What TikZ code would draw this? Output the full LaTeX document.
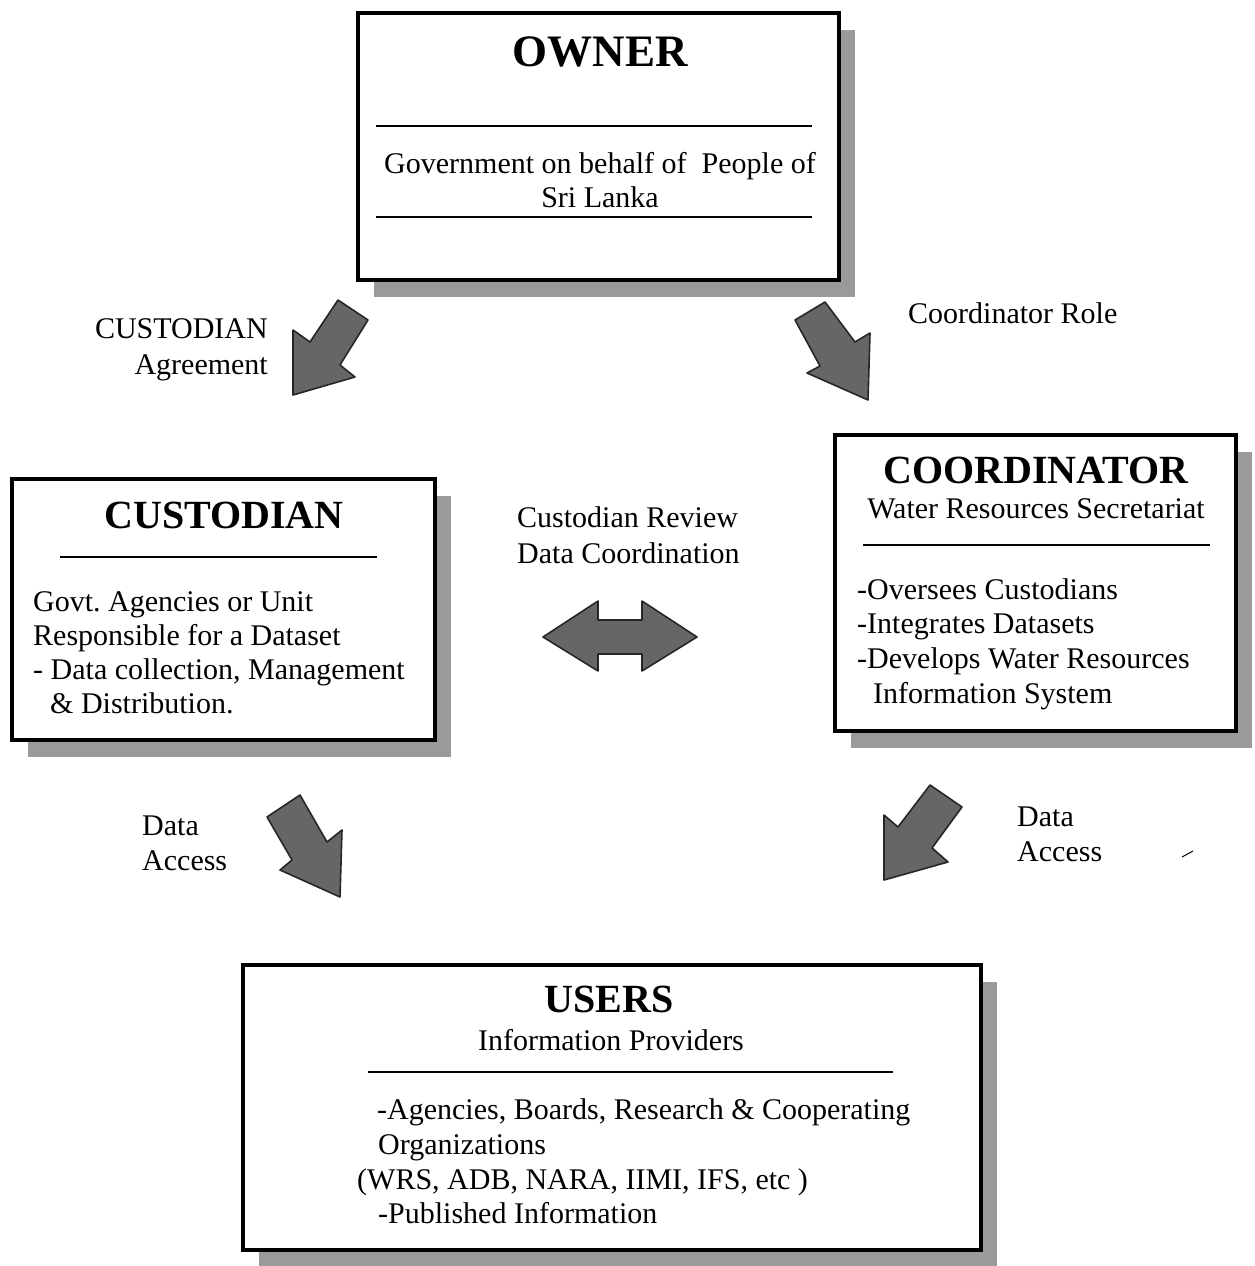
\documentclass[tikz,border=0pt]{standalone}
\usepackage{fontspec}
\setmainfont{Liberation Serif}
\frenchspacing
\usetikzlibrary{shadows}
\definecolor{shadowgray}{HTML}{9A9A9A}
\definecolor{arrowgray}{HTML}{666666}
\tikzset{
  box/.style={draw=black, line width=4pt, fill=white, rectangle, inner sep=0pt,
    drop shadow={shadow xshift=16pt, shadow yshift=-17pt, fill=shadowgray, opacity=1}},
  txt/.style={font=\fontsize{30}{35}\selectfont, inner sep=0pt},
  ttl/.style={font=\fontsize{40}{44}\selectfont\bfseries, inner sep=0pt},
  bigttl/.style={font=\fontsize{45}{50}\selectfont\bfseries, inner sep=0pt},
  rule/.style={line width=2.5pt},
  blockarrow/.style={fill=arrowgray, draw=black!85, line width=1.6pt, line join=round}
}
\begin{document}
\begin{tikzpicture}[x=1pt,y=-1pt]
\useasboundingbox (0,0) rectangle (1255,1266);

% boxes
\node[box, minimum width=481pt, minimum height=267pt] (owner) at (598.5,146.5) {};
\node[box, minimum width=423pt, minimum height=261pt] (custodian) at (223.5,609.5) {};
\node[box, minimum width=401pt, minimum height=296pt] (coordinator) at (1035.5,583) {};
\node[box, minimum width=738pt, minimum height=285pt] (users) at (612,1107.5) {};

% OWNER
\node[bigttl, anchor=base] (ownT) at (600,66) {OWNER};
\draw[rule] (376,126) -- (812,126);
\node[txt, anchor=base] (own1) at (600,173) {Government on behalf of~ People of};
\node[txt, anchor=base] (own2) at (600,207) {Sri Lanka};
\draw[rule] (376,217) -- (812,217);

% CUSTODIAN
\node[ttl, anchor=base] (cusT) at (224,528) {CUSTODIAN};
\draw[rule] (60,557) -- (377,557);
\node[txt, anchor=base west] (cus1) at (33,611) {Govt. Agencies or Unit};
\node[txt, anchor=base west] (cus2) at (33,645) {Responsible for a Dataset};
\node[txt, anchor=base west] (cus3) at (33,679) {- Data collection, Management};
\node[txt, anchor=base west] (cus4) at (50,713) {\& Distribution.};

% COORDINATOR
\node[ttl, anchor=base] (corT) at (1036,483) {COORDINATOR};
\node[txt, anchor=base] (corS) at (1036,518) {Water Resources Secretariat};
\draw[rule] (863,545) -- (1210,545);
\node[txt, anchor=base west] (cor1) at (857,599) {-Oversees Custodians};
\node[txt, anchor=base west] (cor2) at (857,633) {-Integrates Datasets};
\node[txt, anchor=base west] (cor3) at (857,668) {-Develops Water Resources};
\node[txt, anchor=base west] (cor4) at (873,703) {Information System};

% USERS
\node[ttl, anchor=base] (usrT) at (609,1012) {USERS};
\node[txt, anchor=base] (usrS) at (611,1050) {Information Providers};
\draw[rule] (368,1072) -- (893,1072);
\node[txt, anchor=base west] (usr1) at (377,1119) {-Agencies, Boards, Research \& Cooperating};
\node[txt, anchor=base west] (usr2) at (378,1154) {Organizations};
\node[txt, anchor=base west] (usr3) at (357,1189) {(WRS, ADB, NARA, IIMI, IFS, etc )};
\node[txt, anchor=base west] (usr4) at (378,1223) {-Published Information};

% block arrows
\draw[blockarrow] (338,300) -- (368,320) -- (340,365) -- (355,377) -- (293,395) -- (293,330) -- (310,342) -- cycle;
\draw[blockarrow] (825,302) -- (855,342) -- (870,333) -- (868,400) -- (807,373) -- (820,366) -- (795,320) -- cycle;
\draw[blockarrow] (300,795) -- (327,842) -- (342,830) -- (340,897) -- (280,870) -- (292,860) -- (267,817) -- cycle;
\draw[blockarrow] (930,785) -- (962,807) -- (932,848) -- (948,862) -- (884,880) -- (884,815) -- (898,827) -- cycle;
\draw[blockarrow] (543,637) -- (598,601) -- (598,620) -- (642,620) -- (642,601) -- (697,637) -- (642,671) -- (642,654) -- (598,654) -- (598,671) -- cycle;

% labels
\node[txt, anchor=base east] (lab1a) at (268,338) {CUSTODIAN};
\node[txt, anchor=base east] (lab1b) at (268,374) {Agreement};
\node[txt, anchor=base west] (lab2) at (908,323) {Coordinator Role};
\node[txt, anchor=base west] (lab3a) at (517,527) {Custodian Review};
\node[txt, anchor=base west] (lab3b) at (517,563) {Data Coordination};
\node[txt, anchor=base west] (lab4a) at (142,835) {Data};
\node[txt, anchor=base west] (lab4b) at (142,870) {Access};
\node[txt, anchor=base west] (lab5a) at (1017,826) {Data};
\node[txt, anchor=base west] (lab5b) at (1017,861) {Access};

% stray tick
\draw[line width=1pt] (1182,857) -- (1193,851);
\end{tikzpicture}
\end{document}
